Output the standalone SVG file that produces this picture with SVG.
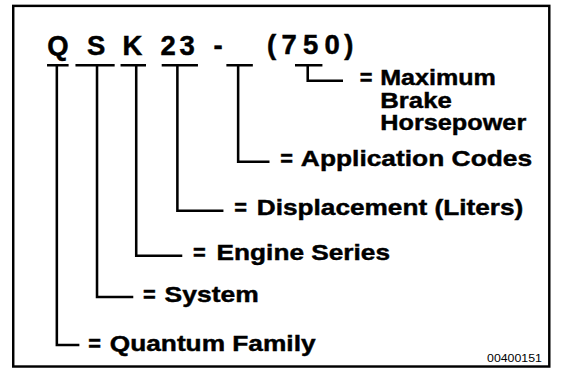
<svg xmlns="http://www.w3.org/2000/svg" width="563" height="374" viewBox="0 0 563 374">
<style>
.code{font-family:"Liberation Sans",Arial,sans-serif;font-weight:bold;font-size:28px;fill:#000;stroke:#000;stroke-width:0.5;text-anchor:middle}
.lbl{font-family:"Liberation Sans",Arial,sans-serif;font-weight:bold;font-size:23px;fill:#000;stroke:#000;stroke-width:0.45}
.num{font-family:"Liberation Sans",Arial,sans-serif;font-size:11px;fill:#000;text-anchor:end}
.ln{stroke:#000;stroke-width:2.6;fill:none;stroke-linecap:butt}
</style>
<rect width="563" height="374" fill="#fff"/>
<g transform="scale(0.98)">
<rect x="13.5" y="6" width="547" height="368" fill="#fff" stroke="#000" stroke-width="2.5"/>
<g id="code">
<text class="code" x="59" y="56">Q</text>
<text class="code" x="98" y="56">S</text>
<text class="code" x="135" y="56">K</text>
<text class="code" x="171.5" y="56">2</text>
<text class="code" x="191" y="56">3</text>
<text class="code" x="222.5" y="56">-</text>
<text class="code" x="277" y="55">(</text>
<text class="code" x="295" y="55">7</text>
<text class="code" x="317" y="55">5</text>
<text class="code" x="339" y="55">0</text>
<text class="code" x="356" y="55">)</text>
</g>
<g id="connectors">
<path class="ln" d="M48 66.5H70M58 66.5V352H81"/>
<path class="ln" d="M77 66.5H117M99 66.5V303H136"/>
<path class="ln" d="M123 66.5H149M139 66.5V261H186"/>
<path class="ln" d="M165 66.5H202M181 66.5V215H228"/>
<path class="ln" d="M231 66.5H258M243 66.5V165H275"/>
<path class="ln" d="M301 66.5H329M314 66.5V82.5H350"/>
</g>
<g id="max-hp">
<text class="lbl" x="367" y="87" textLength="13" lengthAdjust="spacingAndGlyphs">=</text>
<text class="lbl" x="388" y="87" textLength="118" lengthAdjust="spacingAndGlyphs">Maximum</text>
<text class="lbl" x="388" y="110" textLength="73" lengthAdjust="spacingAndGlyphs">Brake</text>
<text class="lbl" x="388" y="133" textLength="149" lengthAdjust="spacingAndGlyphs">Horsepower</text>
</g>
<g id="application">
<text class="lbl" x="286" y="169" textLength="13" lengthAdjust="spacingAndGlyphs">=</text>
<text class="lbl" x="307" y="169" textLength="236" lengthAdjust="spacingAndGlyphs">Application Codes</text>
</g>
<g id="displacement">
<text class="lbl" x="239" y="219" textLength="13" lengthAdjust="spacingAndGlyphs">=</text>
<text class="lbl" x="262" y="219" textLength="272" lengthAdjust="spacingAndGlyphs">Displacement (Liters)</text>
</g>
<g id="engine-series">
<text class="lbl" x="197" y="265" textLength="13" lengthAdjust="spacingAndGlyphs">=</text>
<text class="lbl" x="221" y="265" textLength="177" lengthAdjust="spacingAndGlyphs">Engine Series</text>
</g>
<g id="system">
<text class="lbl" x="146" y="308" textLength="13" lengthAdjust="spacingAndGlyphs">=</text>
<text class="lbl" x="168" y="308" textLength="96" lengthAdjust="spacingAndGlyphs">System</text>
</g>
<g id="quantum-family">
<text class="lbl" x="90" y="358" textLength="13" lengthAdjust="spacingAndGlyphs">=</text>
<text class="lbl" x="112" y="358" textLength="210" lengthAdjust="spacingAndGlyphs">Quantum Family</text>
</g>
<text class="num" x="553" y="369.5" textLength="56" lengthAdjust="spacingAndGlyphs">00400151</text>
</g>
</svg>
